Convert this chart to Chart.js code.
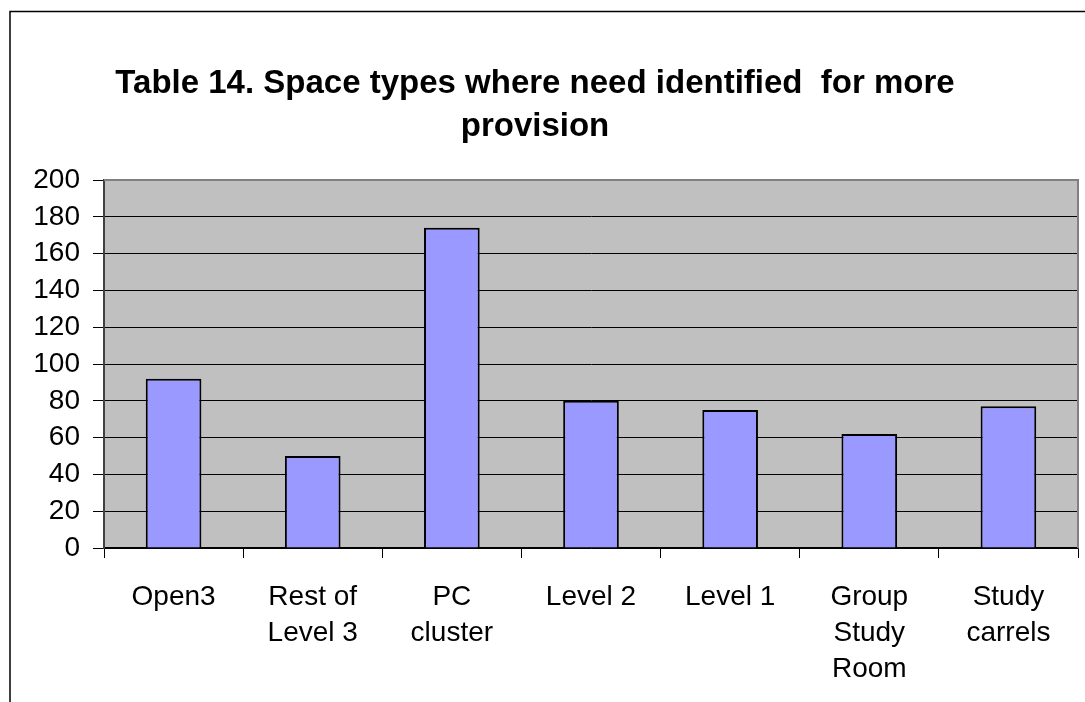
<!DOCTYPE html>
<html>
<head>
<meta charset="utf-8">
<script src="https://cdn.jsdelivr.net/npm/chart.js@4.4.1/dist/chart.umd.min.js"></script>
<style>
  html, body { margin: 0; padding: 0; background: #fff; overflow: hidden; }
  #wrap { width: 1085px; height: 702px; position: relative; overflow: hidden; }
  #c { position: absolute; left: -8px; top: 0; }
</style>
</head>
<body>
<div id="wrap"><canvas id="c" width="1093" height="702"></canvas></div>
<script>
const categories = ["Open3", ["Rest of", "Level 3"], ["PC", "cluster"], "Level 2", "Level 1", ["Group", "Study", "Room"], ["Study", "carrels"]];
const values = [92, 50, 174, 80, 75, 62, 77];
const titleLines = ["Table 14. Space types where need identified  for more", "provision"];
const yMin = 0, yMax = 200, yStep = 20;

const FONT = "'Liberation Sans', Arial, Helvetica, sans-serif";
const SHIFT = 8; // canvas is offset 8px to the left of the page

const framePlugin = {
  id: 'frame',
  beforeDraw(chart) {
    const ctx = chart.ctx;
    const a = chart.chartArea;
    ctx.save();
    ctx.fillStyle = '#fff';
    ctx.fillRect(0, 0, chart.width, chart.height);
    ctx.strokeStyle = '#000';
    ctx.lineWidth = 1.5;
    ctx.beginPath();
    ctx.moveTo(10 + SHIFT, chart.height + 2);
    ctx.lineTo(10 + SHIFT, 11.5);
    ctx.lineTo(chart.width + 2, 11.5);
    ctx.stroke();
    ctx.fillStyle = '#C0C0C0';
    ctx.fillRect(a.left, a.top, a.right - a.left, a.bottom - a.top);
    ctx.restore();
  },
  afterDatasetsDraw(chart) {
    const ctx = chart.ctx;
    const a = chart.chartArea;
    ctx.save();
    ctx.strokeStyle = '#808080';
    ctx.lineWidth = 2;
    ctx.beginPath();
    ctx.moveTo(a.left, a.top);
    ctx.lineTo(a.right, a.top);
    ctx.lineTo(a.right, a.bottom);
    ctx.stroke();
    ctx.restore();
  }
};

new Chart(document.getElementById('c'), {
  type: 'bar',
  data: {
    labels: categories,
    datasets: [{
      data: values,
      backgroundColor: '#9999FF',
      borderColor: '#000000',
      borderWidth: 2,
      categoryPercentage: 1.0,
      barPercentage: 0.4
    }]
  },
  plugins: [framePlugin],
  options: {
    responsive: false,
    devicePixelRatio: 1,
    animation: false,
    layout: { padding: { left: 0, right: 7, top: 0, bottom: 0 } },
    plugins: {
      legend: { display: false },
      tooltip: { enabled: false },
      title: {
        display: true,
        text: titleLines,
        color: '#000',
        font: { family: FONT, size: 33, weight: 'bold', lineHeight: 43 / 33 },
        padding: { top: 62, bottom: 32 }
      }
    },
    scales: {
      x: {
        afterFit(scale) { scale.height = 154; },
        grid: {
          offset: true,
          drawOnChartArea: false,
          drawTicks: true,
          tickLength: 10,
          color: '#000',
          lineWidth: 1
        },
        border: { display: true, color: '#000', width: 1.5 },
        ticks: {
          color: '#000',
          font: { family: FONT, size: 28, lineHeight: 36 / 28 },
          padding: 21,
          maxRotation: 0,
          autoSkip: false
        }
      },
      y: {
        min: yMin,
        max: yMax,
        afterFit(scale) { scale.width = 104 + SHIFT; },
        grid: {
          color: '#000',
          lineWidth: 1,
          drawTicks: true,
          tickLength: 11
        },
        border: { display: true, color: '#404040', width: 2 },
        ticks: {
          stepSize: yStep,
          color: '#000',
          font: { family: FONT, size: 28 },
          padding: 13
        }
      }
    }
  }
});
</script>
</body>
</html>
